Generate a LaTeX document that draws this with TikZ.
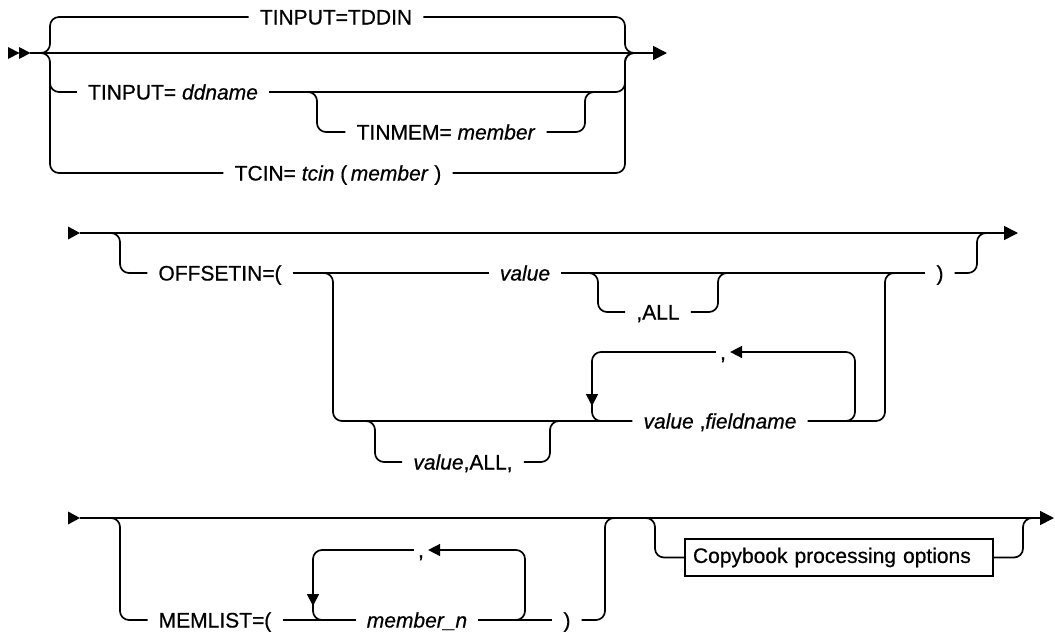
\documentclass[tikz,border=0pt]{standalone}
\usepackage{fontspec}
\setmainfont{Liberation Sans}[FakeBold=0.6]
\usetikzlibrary{arrows.meta}
\tikzset{
  rr/.style={line width=1.7pt, rounded corners=9pt},
  lbl/.style={inner xsep=11pt, inner ysep=0pt, text height=15pt, text depth=0pt, font=\fontsize{21}{25}\selectfont},
  endarrow/.style={-{Triangle[length=14pt,width=14pt]}},
  looparrow/.style={-{Triangle[length=12pt,width=12pt]}},
  startmark/.style={fill=black},
}
\begin{document}
\begin{tikzpicture}[x=1pt,y=-1pt]
\useasboundingbox (0,0) rectangle (1055,635);

% ---------- Section 1 ----------
\fill[startmark] (8,47) -- (19.5,53) -- (8,59) -- cycle;
\fill[startmark] (19,47) -- (30.5,53) -- (19,59) -- cycle;
\coordinate (s1) at (30,53);
\coordinate (e1) at (667,53);
\draw[rr,endarrow] (s1) -- (e1);
\coordinate (j1l) at (40,53);
\coordinate (j1r) at (635,53);

\node[lbl] (tddin) at (336,17) {TINPUT=TDDIN};
\node[lbl] (ddn) at (173,92) {TINPUT= \textit{ddname}};
\node[lbl] (tinmem) at (446,132) {TINMEM= \textit{member}};
\node[lbl] (tcin) at (338,173) {TCIN= \textit{tcin} (\,\textit{member} )};

\draw[rr] (j1l) -| (50,17) -- (tddin.west);
\draw[rr] (tddin.east) -| (625,53) -- (j1r);
\draw[rr] (j1l) -| (50,173) -- (tcin.west);
\draw[rr] (50,75) |- (ddn.west);
\draw[rr] (ddn.east) -| (625,53) -- (j1r);
\draw[rr] (tcin.east) -| (625,53) -- (j1r);
\draw[rr] (305,92) -| (317,132) -- (tinmem.west);
\draw[rr] (tinmem.east) -| (585,92) -- (595,92);

% ---------- Section 2 ----------
\fill[startmark] (68,226.5) -- (80,233) -- (68,239.5) -- cycle;
\coordinate (s2) at (80,233);
\coordinate (e2) at (1018,233);
\draw[rr,endarrow] (s2) -- (e2);

\node[lbl] (offs) at (220,273) {OFFSETIN=(};
\node[lbl] (val1) at (525,273) {\textit{value}};
\node[lbl] (all1) at (658,312) {,ALL};
\node[lbl] (rp1) at (940,273) {)};
\node[lbl] (vf) at (720,421) {\textit{value} ,\textit{fieldname}};
\node[lbl] (vall) at (463,462) {\textit{value},ALL,};
\node[lbl,inner xsep=4pt] (cm1) at (723,352) {,};

\draw[rr] (110,233) -| (120,273) -- (offs.west);
\draw[rr] (offs.east) -- (val1.west);
\draw[rr] (val1.east) -- (rp1.west);
\draw[rr] (588,273) -| (598,312) -- (all1.west);
\draw[rr] (all1.east) -| (718,273) -- (728,273);
\draw[rr] (rp1.east) -| (977,233) -- (987,233);
\draw[rr] (323,273) -| (333,421) -- (vf.west);
\draw[rr] (vf.east) -| (885,273) -- (895,273);
\draw[rr] (365,421) -| (375,462) -- (vall.west);
\draw[rr] (vall.east) -| (550,421) -- (560,421);
\draw[rr,looparrow] (815,421) -| (855,352) -- (cm1.east);
\draw[rr,looparrow] (cm1.west) -| (592,406);
\draw[rr] (592,398) |- (612,421);

% ---------- Section 3 ----------
\fill[startmark] (68,511.5) -- (80,518) -- (68,524.5) -- cycle;
\coordinate (s3) at (80,518);
\coordinate (e3) at (1054,518);
\draw[rr,endarrow] (s3) -- (e3);

\node[lbl] (meml) at (215,620) {MEMLIST=(};
\node[lbl] (memn) at (417,620) {\textit{member\_n}};
\node[lbl] (rp2) at (567,620) {)};
\node[lbl,inner xsep=4pt] (cm2) at (421,550) {,};
\node[draw, line width=1.7pt, inner sep=0pt, text width=292pt, minimum height=37pt, align=left, inner xsep=8pt, font=\fontsize{21}{25}\selectfont] (cb) at (839,557.5) {Copybook processing options};

\draw[rr] (110,518) -| (120,620) -- (meml.west);
\draw[rr] (meml.east) -- (memn.west);
\draw[rr] (memn.east) -- (rp2.west);
\draw[rr] (rp2.east) -| (605,518) -- (615,518);
\draw[rr,looparrow] (500,620) -| (525,550) -- (cm2.east);
\draw[rr,looparrow] (cm2.west) -| (313,606);
\draw[rr] (313,598) |- (332,620);
\draw[rr] (645,518) -| (655,557.5) -- (cb.west);
\draw[rr] (cb.east) -| (1023,518) -- (1033,518);
\end{tikzpicture}
\end{document}
